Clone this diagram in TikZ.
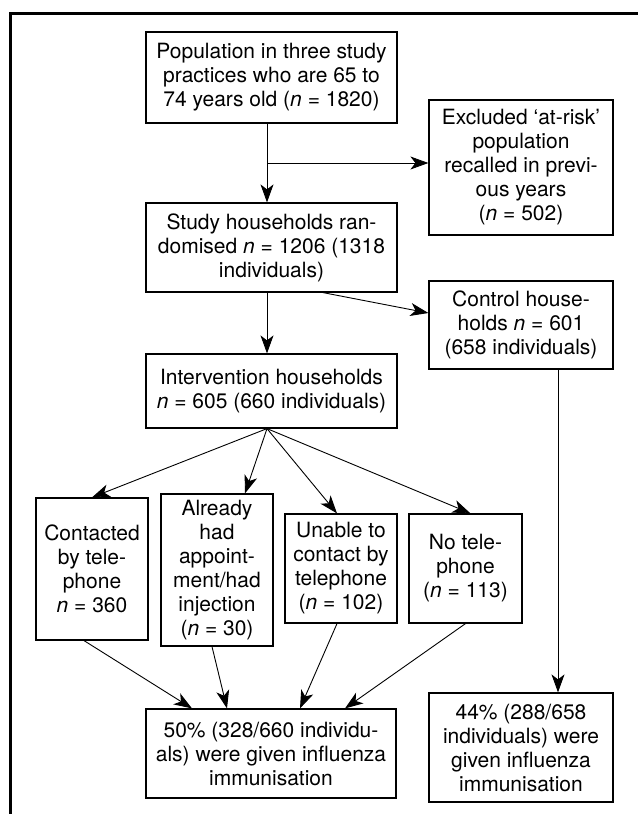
\documentclass[tikz,border=0pt]{standalone}
\usepackage{fontspec}
\setmainfont{TeX Gyre Heros}
\usetikzlibrary{arrows.meta}

\begin{document}
\begin{tikzpicture}[
        x=1pt, y=-1pt,
        box/.style={draw=black, line width=1.2pt, align=center, inner sep=0pt,
            font=\fontsize{21}{24}\selectfont},
        arr/.style={-{Stealth[length=18pt, width=13pt, inset=5pt]}, line width=0.9pt}
    ]

    \useasboundingbox (0,0) rectangle (638,814);

    % Frame (top and left edges)
    \draw[line width=3pt] (10,814) -- (10,13) -- (638,13);

    % Upper column
    \node[box, minimum width=251, minimum height=91] (pop) at (271.5,77.5)
        {Population in three study\\practices who are 65 to\\74 years old (\textit{n} = 1820)};
    \node[box, minimum width=251, minimum height=89] (study) at (271.5,247.5)
        {Study households ran-\\domised \textit{n} = 1206 (1318\\individuals)};
    \node[box, minimum width=251, minimum height=74] (interv) at (271.5,391)
        {Intervention households\\\textit{n} = 605 (660 individuals)};

    % Right column
    \node[box, minimum width=184, minimum height=135] (excl) at (521,167.5)
        {Excluded `at-risk'\\population\\recalled in previ-\\ous years\\(\textit{n} = 502)};
    \node[box, minimum width=184, minimum height=88] (ctrl) at (521,325)
        {Control house-\\holds \textit{n} = 601\\(658 individuals)};
    \node[box, minimum width=184, minimum height=109] (res2) at (521,747.5)
        {44\% (288/658\\individuals) were\\given influenza\\immunisation};

    % Intervention outcomes (4 boxes)
    \node[box, minimum width=112, minimum height=142] (contact) at (92,569)
        {Contacted\\by tele-\\phone\\\textit{n} = 360};
    \node[box, minimum width=112, minimum height=152] (already) at (217,570)
        {Already\\had\\appoint-\\ment/had\\injection\\(\textit{n} = 30)};
    \node[box, minimum width=112, minimum height=109] (unable) at (341,568.5)
        {Unable to\\contact by\\telephone\\(\textit{n} = 102)};
    \node[box, minimum width=113, minimum height=109] (notel) at (465.5,568.5)
        {No tele-\\phone\\(\textit{n} = 113)};

    % Result
    \node[box, minimum width=250, minimum height=89] (res1) at (271,753.5)
        {50\% (328/660 individu-\\als) were given influenza\\immunisation};

    % Connections: upper column
    \draw[arr] ([xshift=-4.5]pop.south) -- ([xshift=-4.5]study.north);
    \coordinate (br) at (267,163);
    \draw[arr] (br) -- (br -| excl.west);
    \draw[arr] ([xshift=-4.5]study.south) -- ([xshift=-4.5]interv.north);
    \draw[arr] ([xshift=51.5]study.south) -- ([yshift=12]ctrl.west);
    \draw[arr] ([xshift=37]ctrl.south) -- ([xshift=37]res2.north);

    % Connections: Intervention to outcomes
    \foreach \n/\s in {contact/0, already/28, unable/-4, notel/5}
        \draw[arr] ([xshift=-4.5]interv.south) -- ([xshift=\s]\n.north);

    % Connections: outcomes to result
    \foreach \n/\a/\b in {contact/-8/-79, already/-5/-44, unable/-4/29, notel/0/74}
        \draw[arr] ([xshift=\a]\n.south) -- ([xshift=\b]res1.north);

\end{tikzpicture}
\end{document}
